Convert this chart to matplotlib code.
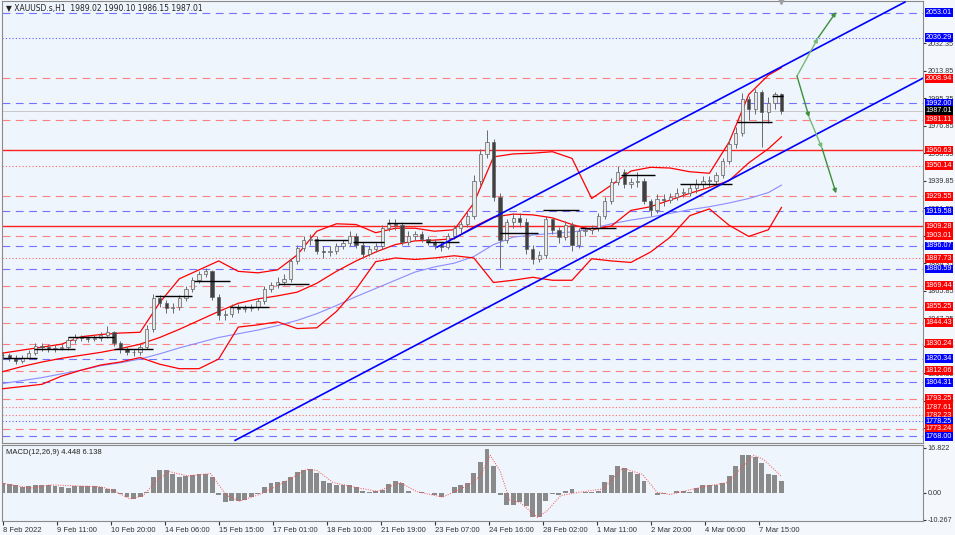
import numpy as np
import matplotlib.pyplot as plt
import matplotlib.transforms as mtransforms

# ---- price data: one candle per 4 hourly bars ----
bar_step = 4
first_open = 1823.0
closes = [1822.5, 1821, 1819, 1821, 1824, 1829, 1828, 1827, 1827.5, 1828,
          1833, 1834.5, 1834, 1833.5, 1834, 1836, 1838, 1831, 1826.5, 1825,
          1824.5, 1828, 1840, 1861, 1858, 1854, 1855, 1861, 1867, 1873,
          1877, 1879, 1862, 1849.5, 1850, 1855, 1853.5, 1854, 1855, 1859,
          1867, 1870, 1872, 1874, 1886, 1895, 1900, 1901, 1893, 1892,
          1893, 1896, 1898, 1903, 1897, 1891, 1894, 1896, 1908, 1911,
          1910, 1899, 1903, 1904, 1901, 1899, 1897, 1895.5, 1903, 1908,
          1911, 1916, 1940, 1958, 1966, 1929, 1900, 1912, 1915, 1912,
          1894, 1887, 1890, 1914, 1907, 1902, 1910, 1897, 1906, 1907,
          1908, 1916, 1926, 1939, 1946, 1938, 1939, 1940, 1926, 1920,
          1928, 1927, 1929, 1932, 1932, 1935, 1938, 1940, 1940, 1944,
          1953, 1965, 1972, 1995, 1988, 2000, 1986, 1992, 1998, 1987.01]
highs = [1825, 1824, 1823, 1823, 1826, 1831, 1831, 1830, 1829.5, 1830,
         1835, 1837, 1836, 1835.5, 1836, 1838, 1842, 1839, 1832, 1828,
         1827, 1830, 1843, 1864, 1863, 1860, 1858, 1863, 1869, 1875,
         1879, 1881, 1880, 1864, 1853, 1857, 1857, 1856.5, 1857, 1861,
         1869, 1872, 1875, 1877, 1888, 1897, 1903, 1904, 1903, 1896,
         1896, 1898, 1900, 1906, 1905, 1899, 1896, 1898, 1910, 1914,
         1914, 1912, 1906, 1906, 1906, 1903, 1901, 1899, 1905, 1910,
         1913, 1919, 1944, 1961, 1974, 1968, 1932, 1914, 1918, 1918,
         1915, 1897, 1893, 1916, 1915, 1909, 1913, 1912, 1908, 1909,
         1910, 1918, 1929, 1942, 1950, 1948, 1942, 1946, 1942, 1928,
         1931, 1931, 1932, 1935, 1935, 1938, 1941, 1943, 1943, 1946,
         1955, 1968, 1976, 1999, 1997, 2002, 2001, 1996, 2000, 1999]
lows = [1820, 1818.5, 1816.5, 1817, 1820, 1823, 1825.5, 1825, 1825, 1826,
        1826, 1831, 1832, 1831.5, 1832, 1832, 1834, 1829, 1824, 1823,
        1822, 1822.5, 1827, 1838, 1855, 1851, 1851, 1853, 1859, 1865,
        1871, 1875, 1860, 1846, 1846, 1848, 1851, 1851.5, 1852, 1853,
        1857, 1865, 1868, 1870, 1872, 1884, 1893, 1897, 1891, 1888,
        1889, 1891, 1894, 1896, 1895, 1888, 1889, 1892, 1894, 1906,
        1907, 1897, 1897, 1900, 1899, 1897, 1894, 1893, 1894, 1901,
        1905, 1909, 1914, 1937, 1955, 1926, 1881, 1898, 1908, 1909,
        1891, 1884, 1885, 1888, 1904, 1898, 1900, 1893, 1895, 1903,
        1904, 1906, 1914, 1924, 1937, 1935, 1935, 1936, 1924, 1916,
        1918, 1923, 1925, 1927, 1929, 1930, 1932, 1935, 1936, 1938,
        1942, 1951, 1962, 1970, 1981, 1985, 1963, 1979, 1988, 1985]

# ---- indicators, sampled every 12 bars (last point at bar 476) ----
band_bars = list(range(0, 469, 12)) + [476]
bb_upper = [1824, 1826, 1828, 1830, 1835, 1836.5, 1837.5, 1838, 1858, 1874,
            1880, 1886, 1879, 1878, 1880, 1890, 1906, 1911, 1910.5, 1905,
            1908, 1908, 1906, 1907, 1925, 1956, 1958, 1958.5, 1959.5, 1955,
            1928, 1937, 1946.5, 1949, 1948.5, 1946, 1945, 1966, 1998, 2011, 2016]
bb_mid = [1811.5, 1815, 1818, 1820.5, 1822.5, 1824.5, 1827, 1830, 1834.5, 1840,
          1846, 1852, 1857.5, 1860.5, 1862.5, 1865, 1871, 1879, 1886, 1892,
          1897, 1899.5, 1900, 1901, 1909, 1915.5, 1917.5, 1917, 1915, 1910.5,
          1907, 1909.5, 1920, 1922.5, 1927, 1931.5, 1935.5, 1940, 1952, 1961.5, 1969.5]
bb_lower = [1800, 1801.5, 1803, 1808.5, 1812.5, 1816, 1818, 1821, 1816.5, 1813.5,
            1813.5, 1820, 1841.5, 1843, 1845, 1840.5, 1841, 1852, 1867, 1885.5,
            1888, 1887, 1888, 1889.5, 1888, 1871.5, 1873, 1875, 1873, 1873,
            1887.5, 1886, 1885, 1892, 1902, 1916.5, 1921, 1910, 1902.5, 1907, 1922]
ma_slow = [1803.5, 1805.5, 1807.5, 1810, 1812.5, 1815.5, 1817.5, 1820, 1823.5, 1827.5,
           1831, 1834.5, 1837, 1839.5, 1842.5, 1846, 1850.5, 1856, 1862, 1867.5,
           1873, 1878.5, 1882, 1884.5, 1889, 1897, 1902, 1903.5, 1904.5, 1905.5,
           1907.5, 1911, 1913.5, 1915.5, 1918, 1920.5, 1922.5, 1925, 1928, 1932, 1937]

# short black horizontal segments (start bar, end bar, price)
seg_start = [0, 19, 40, 68, 93, 117, 139, 168, 190, 214, 235, 259, 304, 330, 353, 378, 414, 449, 470]
seg_end = [21, 44, 68, 92, 116, 139, 163, 187, 211, 233, 256, 279, 327, 352, 375, 399, 446, 470, 477]
seg_price = [1821, 1826.5, 1834.5, 1827, 1862.3, 1872.4, 1854.8, 1870.4, 1900, 1898.8,
             1911.5, 1899, 1904.6, 1920, 1908, 1943.7, 1938, 1979.5, 1997]

# trend channel (bar, price)
chan_up = [(265.5, 1895.3), (551.5, 2060.2)]
chan_dn = [(142.1, 1765.3), (562.5, 2009.0)]

# projected paths (green arrows)
arrow_up = [(485.5, 2010.4), (498.3, 2036.0), (509.4, 2053.5)]
arrow_dn = [(485.5, 2010.4), (492.9, 1982.7), (500.8, 1961.8), (509.4, 1931.5)]

# horizontal levels
levels_price = [2053.01, 2036.29, 2008.94, 1992.00, 1981.11, 1960.63, 1950.14, 1929.55,
                1919.58, 1909.28, 1903.01, 1896.07, 1887.73, 1880.59, 1869.44, 1855.25,
                1844.43, 1830.24, 1820.34, 1812.06, 1804.31, 1793.25, 1787.61, 1782.23,
                1778.25, 1773.24, 1768.00]
levels_kind = ['bdash', 'bdot', 'rdash', 'bdash', 'rdash', 'rsolid', 'rdot', 'rdash',
               'bdash', 'rsolid', 'rdash', 'bdash', 'rdot', 'bdash', 'rdash', 'rdash',
               'rdash', 'rdash', 'bdash', 'rdash', 'bdash', 'rdash', 'rdot', 'rdot',
               'bdot', 'rdash', 'bdash']
last_price = 1987.01

price_ticks = [2032.35, 2013.85, 1995.35, 1976.85, 1958.35, 1939.85, 1921.35, 1902.85,
               1884.35, 1865.85, 1847.35, 1828.85, 1810.35, 1791.85, 1773.35]

# MACD histogram (one value per candle) and signal line
macd_hist = [3.5, 3.4, 3.0, 2.2, 2.6, 2.9, 3.0, 3.0, 2.4, 2.0,
             1.8, 2.4, 2.6, 2.6, 2.4, 2.0, 1.2, 1.2, -0.6, -1.7,
             -2.4, -1.6, 0.2, 5.8, 8.4, 8.4, 7.0, 5.8, 6.2, 6.7,
             6.9, 7.1, 6.0, -1.0, -3.5, -3.1, -3.0, -2.6, -1.6, -0.4,
             2.2, 3.6, 3.9, 4.4, 6.0, 7.6, 8.6, 9.0, 7.5, 4.5,
             3.5, 2.8, 2.8, 3.0, 2.0, 0.6, 0.4, 0.5, 1.0, 3.2,
             4.4, 3.6, 0.6, 0.0, 0.1, -0.3, -0.8, -1.6, -0.2, 2.0,
             3.0, 3.6, 7.5, 11.5, 16.4, 10.0, -1.0, -4.7, -4.5, -3.6,
             -5.0, -9.2, -9.0, -3.0, -0.6, -1.0, 0.6, 1.2, -0.3, 0.1,
             0.2, 0.8, 4.0, 6.6, 10.0, 9.2, 7.8, 6.9, 4.4, -0.2,
             -1.0, -0.5, -0.3, 0.6, 0.8, 0.3, 1.6, 2.9, 2.7, 2.8,
             3.7, 6.2, 10.0, 14.3, 14.0, 13.6, 11.0, 7.0, 6.5, 4.448]
signal_bars = [0, 17, 29, 60, 67, 78, 86, 94, 102, 113, 127, 137, 145, 157, 170, 186, 192,
               202, 218, 229, 243, 253, 269, 284, 292, 298, 304, 310, 316, 327, 333, 341,
               353, 367, 379, 391, 400, 408, 428, 443, 459, 465, 476]
signal_vals = [3.5, 1.7, 2.9, 2.2, 1.0, -2.4, -1.1, 4.5, 7.9, 6.3, 7.2, -1.1, -3.2, -0.7,
               3.2, 8.8, 8.4, 3.8, 1.7, 0.5, 3.8, 0.4, -1.7, 2.6, 6.3, 14.1, 8.2, -3.0,
               -3.6, -9.4, -6.7, -1.1, 0.2, 1.4, 9.2, 6.9, 0.1, -0.7, 2.2, 3.8, 14.1, 12.5, 6.138]

date_labels = ['8 Feb 2022', '9 Feb 11:00', '10 Feb 20:00', '14 Feb 06:00', '15 Feb 15:00',
               '17 Feb 01:00', '18 Feb 10:00', '21 Feb 19:00', '23 Feb 07:00', '24 Feb 16:00',
               '28 Feb 02:00', '1 Mar 11:00', '2 Mar 20:00', '4 Mar 06:00', '7 Mar 15:00']
date_step = 33

# ---- styles ----
bg = '#eef5fc'
kind_style = {
    'bdash': dict(color='#7373ff', ls=(0, (7, 5)), lw=0.8),
    'bdot': dict(color='#6060ff', ls=(0, (1, 2)), lw=0.8),
    'rdash': dict(color='#ff8080', ls=(0, (7, 5)), lw=0.8),
    'rdot': dict(color='#ff6a6a', ls=(0, (1, 2)), lw=0.8),
    'rsolid': dict(color='#ff2020', ls='-', lw=1.0),
}
label_bg = {'b': '#0000ff', 'r': '#ff0000'}

plt.rcParams['font.family'] = ['Liberation Sans', 'DejaVu Sans']

fig = plt.figure(figsize=(9.55, 5.35), dpi=100, facecolor='#f4f8fc')
ax = fig.add_axes([2 / 955, 1 - 443 / 535, 921 / 955, 442 / 535], facecolor=bg)
axm = fig.add_axes([2 / 955, 1 - 521 / 535, 921 / 955, 76 / 535], facecolor=bg)

xmin, xmax = -0.4, 562.5
ax.set_xlim(xmin, xmax)
ax.set_ylim(1763.5, 2060.9)

# horizontal levels + labels
ytrans = mtransforms.blended_transform_factory(ax.transAxes, ax.transData)
for p, k in zip(levels_price, levels_kind):
    st = kind_style[k]
    ax.axhline(p, color=st['color'], linestyle=st['ls'], linewidth=st['lw'], zorder=1)
    ax.text(1.003, p, f'{p:.2f}', transform=ytrans, fontsize=5.2, color='white',
            va='center', ha='left', clip_on=False, zorder=10,
            bbox=dict(boxstyle='square,pad=0.12', fc=label_bg[k[0]], ec='none'))
ax.axhline(last_price, color='#c8c8c8', lw=0.7, zorder=1)
ax.text(1.003, last_price, f'{last_price:.2f}', transform=ytrans, fontsize=5.2,
        color='white', va='center', ha='left', clip_on=False, zorder=11,
        bbox=dict(boxstyle='square,pad=0.12', fc='black', ec='none'))

# indicators
ax.plot(band_bars, ma_slow, color='#8c8cff', lw=0.8, zorder=2)
ax.plot(band_bars, bb_upper, color='#ff0000', lw=0.9, zorder=3)
ax.plot(band_bars, bb_mid, color='#ff0000', lw=0.9, zorder=3)
ax.plot(band_bars, bb_lower, color='#ff0000', lw=0.9, zorder=3)

# candles
cx = np.arange(len(closes)) * bar_step
opens = [first_open] + closes[:-1]
ax.vlines(cx, lows, highs, color='#6a6a6a', lw=0.7, zorder=4)
bull = [c >= o for o, c in zip(opens, closes)]
body_h = [max(abs(c - o), 0.4) for o, c in zip(opens, closes)]
body_b = [min(o, c) for o, c in zip(opens, closes)]
ax.bar(cx, body_h, bottom=body_b, width=2.0,
       color=['#e8e8e8' if b else '#404040' for b in bull],
       edgecolor='#606060', linewidth=0.5, zorder=5)

# black segments
ax.hlines(seg_price, seg_start, seg_end, color='black', lw=1.0, zorder=6)

# channel
for line in (chan_up, chan_dn):
    ax.plot([line[0][0], line[1][0]], [line[0][1], line[1][1]], color='#0000ff', lw=1.2, zorder=6)

# green arrows
greens = ['#3d8f3d', '#76b876']
for path, first in ((arrow_up, 1), (arrow_dn, 0)):
    for i in range(len(path) - 1):
        ax.annotate('', xy=path[i + 1], xytext=path[i],
                    arrowprops=dict(arrowstyle='-|>', color=greens[(i + first) % 2],
                                    lw=1.0, mutation_scale=6, shrinkA=0, shrinkB=0),
                    zorder=7)

# shift marker
ax.plot([cx[-1]], [2060.9], marker='v', color='#a0a0a0', ms=5, clip_on=False, zorder=8)

ax.text(0.004, 0.993, '\u25bc XAUUSD.s,H1  1989.02 1990.10 1986.15 1987.01',
        transform=ax.transAxes, fontsize=5.5, va='top', ha='left', color='#222222',
        family=['DejaVu Sans'])

ax.yaxis.tick_right()
ax.set_yticks(price_ticks)
ax.set_yticklabels([f'{t:.2f}' for t in price_ticks])
ax.tick_params(axis='y', labelsize=5.2, length=2, pad=1.5, colors='#333333')
ax.set_xticks([])

# MACD
axm.set_xlim(xmin, xmax)
axm.set_ylim(-10.68, 17.94)
axm.bar(cx, macd_hist, width=3.0, color='#8a8a8a', zorder=2)
axm.plot(signal_bars, signal_vals, color='#ff4a4a', lw=0.7, ls=(0, (1, 1.5)), zorder=3)
axm.text(0.004, 0.95, 'MACD(12,26,9) 4.448 6.138', transform=axm.transAxes,
         fontsize=5.5, va='top', ha='left', color='#222222')
axm.yaxis.tick_right()
axm.set_yticks([16.822, 0.0, -10.267])
axm.set_yticklabels(['16.822', '0.00', '-10.267'])
axm.tick_params(axis='y', labelsize=5.2, length=2, pad=1.5, colors='#333333')
axm.set_xticks([i * date_step for i in range(len(date_labels))])
axm.set_xticklabels(date_labels)
axm.tick_params(axis='x', labelsize=5.5, length=3, pad=1, colors='#333333')
for lab in axm.get_xticklabels():
    lab.set_horizontalalignment('left')

for a in (ax, axm):
    for s in a.spines.values():
        s.set_color('#8a8a8a')
        s.set_linewidth(0.8)

fig.savefig('out.png', dpi=100, facecolor=fig.get_facecolor())
